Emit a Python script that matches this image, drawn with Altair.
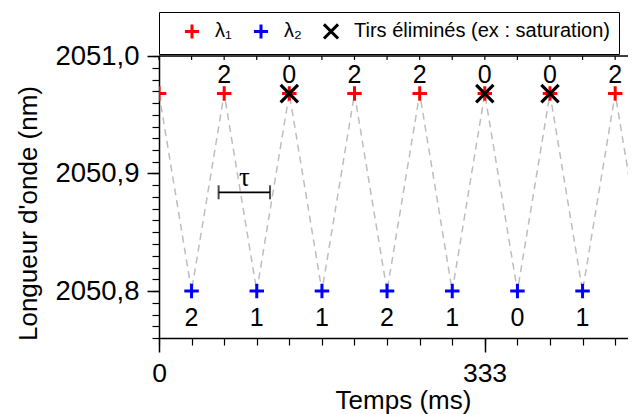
import altair as alt
import pandas as pd

# ---- data ----
red_t = [0, 66.7, 133.3, 200, 266.7, 333.3, 400, 466.7]
red_nm = [2050.968] * 8
red_count = ["", "2", "0", "2", "2", "0", "0", "2"]

blue_t = [33.3, 100, 166.7, 233.3, 300, 366.7, 433.3, 500]
blue_nm = [2050.80] * 8
blue_count = ["2", "1", "1", "2", "1", "0", "1", ""]

elim_t = [133.3, 333.3, 400]
elim_nm = [2050.968] * 3

tau_start, tau_end, tau_nm = 61, 113.6, 2050.884

x_minor = [round(i * 33.333, 2) for i in range(0, 15)]
x_major = [0, 333]
y_minor = [round(2050.76 + i * 0.01, 2) for i in range(0, 25)]
y_major = [2050.8, 2050.9, 2051.0]

L1, L2, LX = "λ₁", "λ₂", "Tirs éliminés (ex : saturation)"

red = pd.DataFrame({"t": red_t, "nm": red_nm, "n": red_count, "s": L1})
blue = pd.DataFrame({"t": blue_t, "nm": blue_nm, "n": blue_count, "s": L2})
elim = pd.DataFrame({"t": elim_t, "nm": elim_nm, "s": LX})
line = pd.concat([red, blue]).sort_values("t")
tau = pd.DataFrame({"t": [tau_start], "t2": [tau_end], "nm": [tau_nm]})
tau_ends = pd.DataFrame({"t": [tau_start, tau_end], "nm": [tau_nm, tau_nm]})
tau_lbl = pd.DataFrame({"t": [(tau_start + tau_end) / 2], "nm": [tau_nm], "txt": ["τ"]})
topticks = pd.DataFrame({"t": x_minor})

W, H = 469, 282
XDOM = [0, 479.8]
YDOM = [2050.76, 2051.0]
FONT = "Liberation Sans"

xs = alt.Scale(domain=XDOM, nice=False, zero=False)
ys = alt.Scale(domain=YDOM, nice=False, zero=False)

PLUS = "M-1,0H1M0,-1V1"
CROSS = "M-1,-1L1,1M-1,1L1,-1"

color_scale = alt.Scale(domain=[L1, L2, LX], range=["#ff0000", "#0000ff", "#000000"])
shape_scale = alt.Scale(domain=[L1, L2, LX], range=[PLUS, PLUS, CROSS])

legend = alt.Legend(
    orient="none", legendX=0, legendY=-44, direction="horizontal",
    title=" ", titleOrient="left", titlePadding=14, titleFontSize=10,
    labelFont=FONT, labelFontSize=20, labelColor="black", labelLimit=500,
    labelOffset=13, columnPadding=15,
    symbolSize=200, symbolStrokeWidth=3, symbolFillColor="transparent",
    strokeColor="black", padding=9, fillColor="white",
)

x_minor_ax = alt.Axis(orient="bottom", values=x_minor, labels=False, title=None, tickSize=7,
                      grid=False, domainColor="black", tickColor="black",
                      domainWidth=1.5, tickWidth=1.2)
x_major_ax = alt.Axis(orient="bottom", values=x_major, format="d", tickSize=14, grid=False,
                      domain=False, tickColor="black", tickWidth=1.5,
                      labelFont=FONT, labelFontSize=26.5, labelColor="black",
                      labelPadding=8, title="Temps (ms)", titleFont=FONT,
                      titleFontSize=26, titleFontWeight="normal",
                      titleColor="black", titlePadding=1, titleX=244,
                      labelFlush=False)
y_minor_ax = alt.Axis(orient="left", values=y_minor, labels=False, title=None, tickSize=7,
                      grid=False, domainColor="black", tickColor="black",
                      domainWidth=1.5, tickWidth=1.2)
y_major_ax = alt.Axis(orient="left", values=y_major, tickSize=12, grid=False, domain=False,
                      tickColor="black", tickWidth=1.5,
                      labelExpr="replace(format(datum.value, '.1f'), '.', ',')",
                      labelFont=FONT, labelFontSize=27.5, labelColor="black",
                      labelPadding=8, title="Longueur d'onde (nm)",
                      titleFont=FONT, titleFontSize=26,
                      titleFontWeight="normal", titleColor="black",
                      titleX=-118, titleY=157)

axes_layer = alt.Chart(tau).mark_point(opacity=0).encode(
    x=alt.X("t:Q", scale=xs, axis=x_minor_ax),
    y=alt.Y("nm:Q", scale=ys, axis=y_minor_ax),
)
axes_layer2 = alt.Chart(tau).mark_point(opacity=0).encode(
    x=alt.X("t:Q", scale=xs, axis=x_major_ax),
    y=alt.Y("nm:Q", scale=ys, axis=y_major_ax),
)

X = alt.X("t:Q", scale=xs, axis=None)
Y = alt.Y("nm:Q", scale=ys, axis=None)

dash = alt.Chart(line).mark_line(
    color="#bdbdbd", strokeDash=[7, 5], strokeWidth=1.5, clip=True
).encode(x=X, y=Y, order="t:Q")

pts_enc = dict(
    x=X, y=Y,
    color=alt.Color("s:N", scale=color_scale, legend=legend),
    shape=alt.Shape("s:N", scale=shape_scale, legend=legend),
)
red_pts = alt.Chart(red).mark_point(filled=False, strokeWidth=3, size=210, opacity=1, clip=True).encode(**pts_enc)
blue_pts = alt.Chart(blue).mark_point(filled=False, strokeWidth=3, size=210, opacity=1, clip=True).encode(**pts_enc)
elim_pts = alt.Chart(elim).mark_point(filled=False, strokeWidth=3.2, size=300, opacity=1, clip=True).encode(**pts_enc)

red_txt = alt.Chart(red).mark_text(
    font=FONT, fontSize=25, color="black", baseline="alphabetic", dy=-11
).encode(x=X, y=Y, text="n:N")
blue_txt = alt.Chart(blue).mark_text(
    font=FONT, fontSize=25, color="black", baseline="alphabetic", dy=35
).encode(x=X, y=Y, text="n:N")

tau_rule = alt.Chart(tau).mark_rule(color="black", strokeWidth=1.8).encode(
    x=X, x2="t2:Q", y=Y)
tau_caps = alt.Chart(tau_ends).mark_tick(
    color="black", thickness=2, size=14, orient="vertical").encode(x=X, y=Y)
tau_text = alt.Chart(tau_lbl).mark_text(
    font="Liberation Serif", fontSize=27, color="black", baseline="alphabetic", dy=-6
).encode(x=X, y=Y, text="txt:N")

top_ticks = alt.Chart(topticks).mark_rule(color="black", strokeWidth=1.2).encode(
    x=X, y=alt.value(0), y2=alt.value(4))
top_line = alt.Chart(tau).mark_rule(color="black", strokeWidth=1.5).encode(
    x=alt.value(0), x2=alt.value(W), y=alt.value(0))

chart = alt.layer(
    axes_layer, axes_layer2, dash, tau_rule, tau_caps, tau_text,
    red_pts, blue_pts, elim_pts, red_txt, blue_txt, top_ticks, top_line,
).resolve_axis(x="independent", y="independent").properties(
    width=W, height=H,
    autosize=alt.AutoSizeParams(type="none"),
    padding={"left": 151, "top": 48, "right": 0, "bottom": 76},
).configure_view(stroke=None).configure(background="white")

chart.save("out.html", embed_options={"renderer": "svg", "actions": False})
